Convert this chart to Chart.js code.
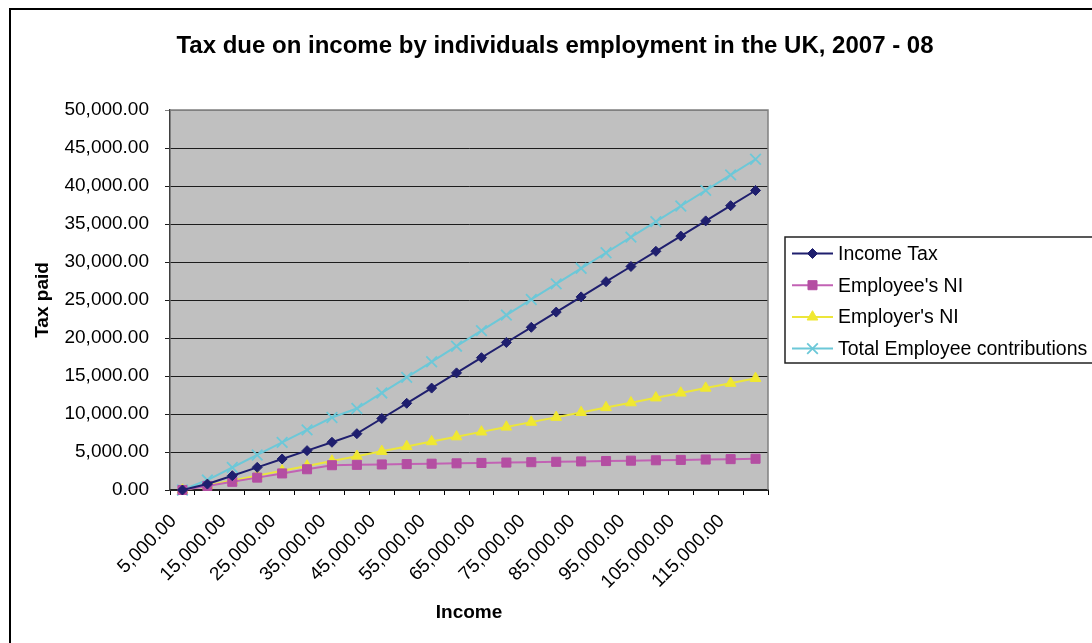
<!DOCTYPE html>
<html>
<head>
<meta charset="utf-8">
<title>Tax due on income</title>
<script src="https://cdn.jsdelivr.net/npm/chart.js@4.4.0/dist/chart.umd.min.js"></script>
<style>
  html, body { margin: 0; padding: 0; background: #fff; overflow: hidden; }
  #wrap { position: relative; width: 1092px; height: 643px; overflow: hidden; }
  #frame { position: absolute; left: 9px; top: 8px; width: 1200px; height: 800px; border: 2px solid #000; box-sizing: border-box; }
  #chart { position: absolute; left: 0; top: 0; }
</style>
</head>
<body>
<div id="wrap">
  <div id="frame"></div>
  <canvas id="chart" width="1092" height="643"></canvas>
</div>
<script>
// Income bands (x categories)
const incomes = [5000, 10000, 15000, 20000, 25000, 30000, 35000, 40000, 45000, 50000, 55000, 60000,
                 65000, 70000, 75000, 80000, 85000, 90000, 95000, 100000, 105000, 110000, 115000, 120000];

// Tax paid per band
const incomeTax = [0, 780, 1880, 2980, 4080, 5180, 6280, 7410, 9410, 11410, 13410, 15410,
                   17410, 19410, 21410, 23410, 25410, 27410, 29410, 31410, 33410, 35410, 37410, 39410];
const employeeNI = [0, 530, 1080, 1630, 2180, 2730, 3260, 3310, 3360, 3410, 3460, 3510,
                    3560, 3610, 3660, 3710, 3760, 3810, 3860, 3910, 3960, 4010, 4060, 4110];
const employerNI = [0, 610, 1250, 1890, 2530, 3170, 3810, 4450, 5090, 5730, 6370, 7010,
                    7650, 8290, 8930, 9570, 10210, 10850, 11490, 12130, 12770, 13410, 14050, 14690];
const totalEmployee = [0, 1310, 2960, 4610, 6260, 7910, 9540, 10720, 12770, 14820, 16870, 18920,
                       20970, 23020, 25070, 27120, 29170, 31220, 33270, 35320, 37370, 39420, 41470, 43520];

// Y axis range
const yMin = 0;
const yMax = 50000;
const yStep = 5000;

const chartTitle = 'Tax due on income by individuals employment in the UK, 2007 - 08';
const FONT = '"Liberation Sans", Arial, sans-serif';

const fmt = v => Number(v).toLocaleString('en-US', { minimumFractionDigits: 2, maximumFractionDigits: 2 });

const series = [
  { label: 'Income Tax', data: incomeTax, line: '#1f1f6e', fill: '#1f1f6e', style: 'rectRot', radius: 5 },
  { label: "Employee's NI", data: employeeNI, line: '#c262b4', fill: '#b44ea2', style: 'rect', radius: 6.4 },
  { label: "Employer's NI", data: employerNI, line: '#ece63a', fill: '#f0e830', style: 'triangle', radius: 6.2 },
  { label: 'Total Employee contributions', data: totalEmployee, line: '#6cc8d8', fill: '#6cc8d8', style: 'crossRot', radius: 7.5 }
];

// Plot background, frame, title and boxed legend
const excelLook = {
  id: 'excelLook',
  beforeDraw(chart) {
    const { ctx, chartArea: a } = chart;
    ctx.save();
    ctx.fillStyle = '#c0c0c0';
    ctx.fillRect(a.left, a.top, a.right - a.left, a.bottom - a.top);
    ctx.restore();
  },
  beforeDatasetsDraw(chart) {
    const { ctx, chartArea: a } = chart;
    ctx.save();
    ctx.strokeStyle = '#808080';
    ctx.lineWidth = 1.5;
    ctx.beginPath();
    ctx.moveTo(a.left, a.top);
    ctx.lineTo(a.right, a.top);
    ctx.lineTo(a.right, a.bottom);
    ctx.stroke();
    ctx.restore();
  },
  afterDraw(chart) {
    const ctx = chart.ctx;
    ctx.save();
    // title
    ctx.fillStyle = '#000';
    ctx.font = 'bold 24px ' + FONT;
    ctx.textAlign = 'center';
    ctx.textBaseline = 'middle';
    ctx.fillText(chartTitle, 555, 46);

    // legend box
    const lx = 785, ly = 237, lw = 320, lh = 126;
    ctx.strokeStyle = '#222';
    ctx.lineWidth = 1.5;
    ctx.strokeRect(lx, ly, lw, lh);
    ctx.font = '19.5px ' + FONT;
    ctx.textAlign = 'left';
    series.forEach((s, i) => {
      const y = 253.5 + i * 31.7;
      ctx.strokeStyle = s.line;
      ctx.lineWidth = 2;
      ctx.beginPath();
      ctx.moveTo(792, y);
      ctx.lineTo(833, y);
      ctx.stroke();
      ctx.fillStyle = s.fill;
      ctx.strokeStyle = s.fill;
      ctx.lineWidth = s.style === 'crossRot' ? 1.8 : 1;
      Chart.helpers.drawPoint(ctx, { pointStyle: s.style, radius: s.radius, rotation: 0, borderWidth: ctx.lineWidth }, 812.5, y);
      ctx.fillStyle = '#000';
      ctx.fillText(s.label, 838, y + 1);
    });
    ctx.restore();
  }
};

Chart.defaults.font.family = FONT;
Chart.defaults.color = '#000';

new Chart(document.getElementById('chart'), {
  type: 'line',
  data: {
    labels: incomes.map(fmt),
    datasets: series.map(s => ({
      label: s.label,
      data: s.data,
      borderColor: s.line,
      borderWidth: 2,
      backgroundColor: s.fill,
      pointStyle: s.style,
      pointRadius: s.radius,
      pointBackgroundColor: s.fill,
      pointBorderColor: s.fill,
      pointBorderWidth: s.style === 'crossRot' ? 1.8 : 1,
      tension: 0,
      fill: false,
      clip: false
    }))
  },
  options: {
    responsive: false,
    animation: false,
    layout: { padding: { left: 27, top: 110, right: 324, bottom: 15 } },
    plugins: {
      legend: { display: false },
      title: { display: false },
      tooltip: { enabled: false }
    },
    scales: {
      x: {
        type: 'category',
        offset: true,
        grid: {
          offset: true,
          drawOnChartArea: false,
          drawTicks: true,
          tickLength: 5,
          color: '#000'
        },
        border: { display: true, color: '#222', width: 2 },
        ticks: {
          autoSkip: false,
          minRotation: 45,
          maxRotation: 45,
          padding: 15,
          labelOffset: -9,
          font: { size: 19 },
          color: '#000',
          callback: (v, i) => (i % 2 === 0 ? fmt(incomes[i]) : '')
        },
        title: { display: true, text: 'Income', font: { size: 19, weight: 'bold' }, color: '#000' },
        afterFit: scale => { scale.height = 138; }
      },
      y: {
        min: yMin,
        max: yMax,
        grid: {
          color: c => (c.tick && c.tick.value === yMax ? '#808080' : '#1c1c1c'),
          lineWidth: 1,
          tickLength: 5
        },
        border: { display: true, color: '#404040', width: 1.5 },
        ticks: {
          stepSize: yStep,
          padding: 16,
          font: { size: 19 },
          color: '#000',
          callback: v => fmt(v)
        },
        title: { display: true, text: 'Tax paid', font: { size: 19, weight: 'bold' }, color: '#000' },
        afterFit: scale => { scale.width = 143; }
      }
    }
  },
  plugins: [excelLook]
});
</script>
</body>
</html>
